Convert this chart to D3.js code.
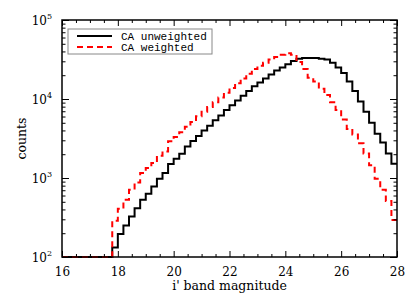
<!DOCTYPE html>
<html>
<head>
<meta charset="utf-8">
<script src="https://cdn.jsdelivr.net/npm/d3@7"></script>
<style>
  html, body { margin: 0; padding: 0; background: #fff; }
  svg { display: block; }
  .tick-label { font-family: "DejaVu Serif", "Liberation Serif", serif; font-size: 12px; fill: #000; }
  .axis-title { font-family: "DejaVu Serif", "Liberation Serif", serif; font-size: 12.5px; fill: #000; }
  .legend-text { font-family: "Liberation Mono", "DejaVu Sans Mono", monospace; font-size: 11px; fill: #000; }
</style>
</head>
<body>
<svg id="chart" width="415" height="297"></svg>
<script>
// bin left edges, 0.2 mag wide
const binStart = 16;
const binWidth = 0.2;

// counts per bin, from 16.0 to 27.8
const unweighted = [
  0, 0, 0, 0, 0, 0, 0, 0, 0,
  132, 195, 250, 325, 415, 530, 630, 780, 980, 1160,
  1500, 1750, 2030, 2510, 2950, 3390, 3980, 4570, 5370, 6170,
  7240, 8320, 9550, 10960, 12590, 14450, 16220, 18200, 20420, 22900,
  25100, 27500, 30200, 32400, 33100, 33100, 33100, 32400, 31600, 28800,
  25100, 21400, 16600, 12600, 9330, 6920, 5010, 3630, 2820, 2040, 1510
];

const weighted = [
  0, 0, 0, 0, 0, 0, 0, 0, 0,
  288, 408, 531, 711, 879, 1157, 1340, 1549, 1914, 2171,
  2911, 3310, 3800, 4470, 5130, 6030, 6920, 7940, 9120, 10470,
  12020, 13800, 15850, 18200, 20900, 24000, 26300, 28800, 31600, 33900,
  36300, 38000, 36300, 29500, 24000, 18600, 16600, 13500, 11200, 9120,
  7240, 5500, 4170, 3550, 2750, 2040, 1450, 980, 710, 510, 295
];

const xTicks = [16, 18, 20, 22, 24, 26, 28];
const yTicks = [100, 1000, 10000, 100000];
const yExponents = ["2", "3", "4", "5"];

const series = [
  { name: "CA unweighted", values: unweighted, color: "#000", dash: null },
  { name: "CA weighted", values: weighted, color: "#ff0000", dash: "6,4" }
];

const svg = d3.select('#chart');
const margin = { left: 62, right: 18, top: 20, bottom: 40 };
const W = 415, H = 297;
const pw = W - margin.left - margin.right;
const ph = H - margin.top - margin.bottom;

const x = d3.scaleLinear().domain([16, 28]).range([margin.left, margin.left + pw]);
const y = d3.scaleLog().domain([100, 100000]).range([margin.top + ph, margin.top]).clamp(true);

svg.append('rect').attr('width', W).attr('height', H).attr('fill', '#fff');

// histograms
function stepPoints(values) {
  const pts = values.map((v, i) => [binStart + i * binWidth, v]);
  pts.push([binStart + values.length * binWidth, values[values.length - 1]]);
  return pts;
}

const line = d3.line()
  .x(d => x(d[0]))
  .y(d => y(d[1]))
  .curve(d3.curveStepAfter);

svg.append('g')
  .selectAll('path')
  .data(series)
  .join('path')
  .attr('d', d => line(stepPoints(d.values)))
  .attr('fill', 'none')
  .attr('stroke', d => d.color)
  .attr('stroke-width', 2)
  .attr('stroke-dasharray', d => d.dash);

// axes, IDL style: ticks on all four sides
const xMinor = d3.range(16, 28.01, 0.5).filter(v => !xTicks.includes(v));
const yMinor = [];
[100, 1000, 10000].forEach(dec => {
  for (let k = 2; k <= 9; k++) yMinor.push(dec * k);
});

function xAxis(gen, yPos, labels) {
  const g = svg.append('g').attr('transform', `translate(0,${yPos})`);
  g.call(gen(x).tickValues(xTicks).tickSize(6).tickPadding(7)
    .tickFormat(labels ? d3.format('d') : ''));
  g.append('g').call(gen(x).tickValues(xMinor).tickSize(3).tickFormat(''));
  return g;
}

function yAxis(gen, xPos, labels) {
  const g = svg.append('g').attr('transform', `translate(${xPos},0)`);
  g.call(gen(y).tickValues(yTicks).tickSize(7).tickFormat(''));
  g.append('g').call(gen(y).tickValues(yMinor).tickSize(3.5).tickFormat(''));
  return g;
}

const bottom = xAxis(d3.axisTop, margin.top + ph, true);
bottom.selectAll('.tick text')
  .attr('class', 'tick-label')
  .attr('y', 10)
  .attr('dy', '0.71em')
  .attr('font-family', null).attr('font-size', null);
xAxis(d3.axisBottom, margin.top, false);
yAxis(d3.axisRight, margin.left, true);
yAxis(d3.axisLeft, margin.left + pw, false);

svg.selectAll('.domain').remove();
svg.selectAll('.tick line').attr('stroke', '#000').attr('stroke-width', 1);

svg.append('rect')
  .attr('x', margin.left).attr('y', margin.top)
  .attr('width', pw).attr('height', ph)
  .attr('fill', 'none').attr('stroke', '#000').attr('stroke-width', 1.5);

// y tick labels 10^n
const yl = svg.append('g').selectAll('text')
  .data(yTicks)
  .join('text')
  .attr('class', 'tick-label')
  .attr('text-anchor', 'end')
  .attr('x', margin.left - 10)
  .attr('y', d => y(d) + 5);
yl.append('tspan').text('10');
yl.append('tspan')
  .attr('dy', -6)
  .attr('font-size', 8)
  .text((d, i) => yExponents[i]);

// axis titles
svg.append('text')
  .attr('class', 'axis-title')
  .attr('text-anchor', 'middle')
  .attr('x', margin.left + pw / 2)
  .attr('y', H - 7)
  .text("i' band magnitude");

svg.append('text')
  .attr('class', 'axis-title')
  .attr('text-anchor', 'middle')
  .attr('transform', `translate(26,${margin.top + ph / 2}) rotate(-90)`)
  .text('counts');

// legend
const legend = svg.append('g').attr('transform', 'translate(68,29)');
legend.append('rect')
  .attr('width', 144).attr('height', 25)
  .attr('fill', '#fff').attr('stroke', '#888').attr('stroke-width', 1);
const item = legend.selectAll('g.item')
  .data(series)
  .join('g')
  .attr('class', 'item')
  .attr('transform', (d, i) => `translate(0,${7 + i * 11})`);
item.append('line')
  .attr('x1', 9).attr('x2', 44)
  .attr('stroke', d => d.color)
  .attr('stroke-width', 2)
  .attr('stroke-dasharray', d => d.dash);
item.append('text')
  .attr('class', 'legend-text')
  .attr('x', 53)
  .attr('dy', '0.35em')
  .text(d => d.name);
</script>
</body>
</html>
